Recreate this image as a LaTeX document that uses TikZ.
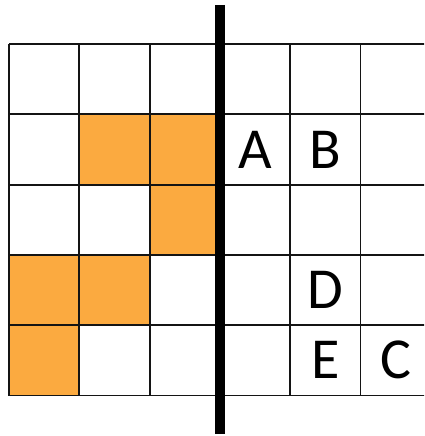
\documentclass[tikz,border=0pt]{standalone}
\usepackage{fontspec}
\setmainfont{Carlito}
\definecolor{cellorange}{RGB}{251,170,64}
\definecolor{gridline}{RGB}{20,20,20}
\begin{document}
\begin{tikzpicture}[x=1pt,y=-1pt,
  gridstyle/.style={draw=gridline,line width=1.8pt},
  filled/.style={fill=cellorange},
  letter/.style={font=\fontsize{58}{58}\selectfont,inner sep=0pt,text=black},
  mirror/.style={line width=10pt,black}]
\useasboundingbox (0,0) rectangle (424,436);
\def\cs{70.3}
\def\xo{9}
\def\yo{44}
% orange cells (col,row)
\foreach \c/\r in {1/1,2/1,2/2,0/3,1/3,0/4}{
  \fill[filled] ({\xo+\c*\cs},{\yo+\r*\cs}) rectangle ++(\cs,\cs);
}
% grid
\begin{scope}
\clip (0,0) rectangle (424,436);
\foreach \r in {0,...,5}{
  \draw[gridstyle] (\xo,{\yo+\r*\cs}) -- (440,{\yo+\r*\cs});
}
\foreach \c in {0,...,5}{
  \draw[gridstyle] ({\xo+\c*\cs},\yo) -- ({\xo+\c*\cs},{\yo+5*\cs});
}
\end{scope}
% thick line
\coordinate (top) at (220,5);
\coordinate (bot) at (220,434);
\draw[mirror] (top) -- (bot);
% letters
\node[letter] (A) at ({\xo+3.5*\cs},{\yo+1.5*\cs}) {A};
\node[letter] (B) at ({\xo+4.5*\cs},{\yo+1.5*\cs}) {B};
\node[letter] (D) at ({\xo+4.5*\cs},{\yo+3.5*\cs}) {D};
\node[letter] (E) at ({\xo+4.5*\cs},{\yo+4.5*\cs}) {E};
\node[letter] (C) at ({\xo+5.5*\cs},{\yo+4.5*\cs}) {C};
\end{tikzpicture}
\end{document}
